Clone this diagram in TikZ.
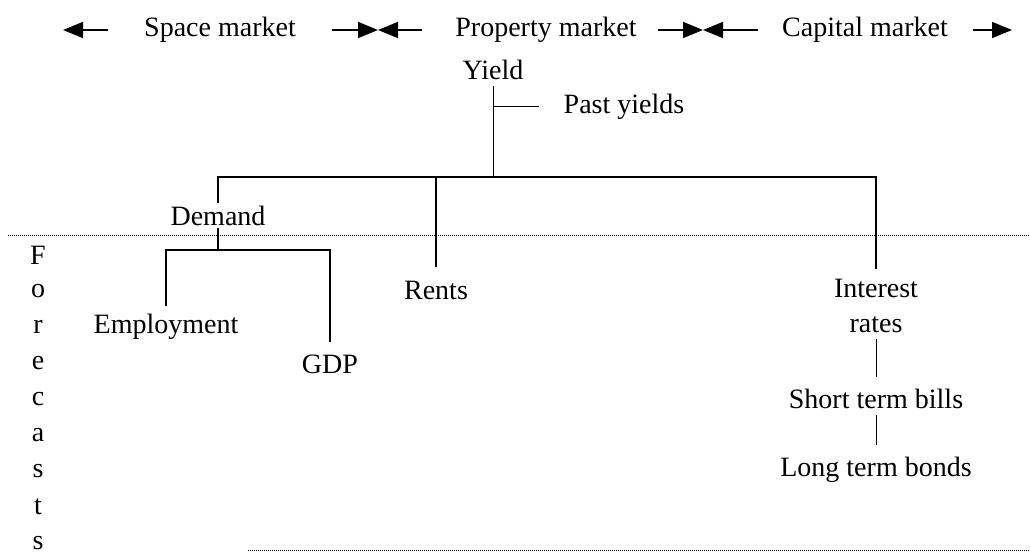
\documentclass[tikz,border=0pt]{standalone}
\usepackage{fontspec}
\setmainfont{Liberation Serif}
\usetikzlibrary{arrows.meta}
\tikzset{
  lbl/.style={inner sep=0pt, font=\fontsize{28}{35}\selectfont},
  conn/.style={line width=1.8pt},
  thinconn/.style={line width=1pt},
  arr/.style={line width=1.6pt, -{Triangle[length=20pt,width=16pt]}},
  sep/.style={line width=1pt, densely dotted},
}
\begin{document}
\begin{tikzpicture}[x=1pt,y=-1pt]
\useasboundingbox (0,0) rectangle (1030,556);
% top row
\node[lbl] (space) at (220,30) {Space market};
\node[lbl] (property) at (546,30) {Property market};
\node[lbl] (capital) at (865,30) {Capital market};
\coordinate (a0s) at (108,30); \coordinate (a0t) at (63,30);
\coordinate (a1s) at (332,30); \coordinate (a1t) at (378,30); \coordinate (a1e) at (422,30);
\coordinate (a2s) at (658,30); \coordinate (a2t) at (703,30); \coordinate (a2e) at (758,30);
\coordinate (a3s) at (973,30); \coordinate (a3t) at (1012,30);
\draw[arr] (a0s) -- (a0t);
\draw[arr] (a1s) -- (a1t);
\draw[arr] (a1e) -- (a1t);
\draw[arr] (a2s) -- (a2t);
\draw[arr] (a2e) -- (a2t);
\draw[arr] (a3s) -- (a3t);
% tree
\node[lbl] (yield) at (493,70) {Yield};
\node[lbl] (past) at (624,107) {Past yields};
\node[lbl] (demand) at (218,216) {Demand};
\node[lbl] (rents) at (436,290) {Rents};
\node[lbl, align=center] (interest) at (876,306) {Interest\\rates};
\node[lbl] (short) at (876,399) {Short term bills};
\node[lbl] (long) at (876,470) {Long term bonds};
\node[lbl] (employment) at (166,327) {Employment};
\node[lbl] (gdp) at (330,364) {GDP};
\coordinate (bar) at (492,177);
\coordinate (dj) at (218,250);
\draw[thinconn] ([yshift=-6pt]yield.south) -- (yield.south |- bar);
\draw[thinconn] (yield.south |- past) -- ([xshift=-25pt]past.west);
\draw[conn] ([yshift=3pt]demand.north) |- (bar) -| ([yshift=10pt]interest.north);
\draw[conn] (rents.north |- bar) -- ([yshift=13pt]rents.north);
\draw[conn] ([yshift=-2pt]demand.south) -- (dj);
\draw[conn] ([yshift=8pt]employment.north) |- (dj) -| ([yshift=12pt]gdp.north);
\draw[thinconn] ([yshift=-6pt]interest.south) -- ([yshift=12pt]short.north);
\draw[thinconn] ([yshift=-6pt]short.south) -- ([yshift=12pt]long.north);
% separators
\coordinate (s1l) at (8,235); \coordinate (s1r) at (1030,235);
\coordinate (s2l) at (248,550); \coordinate (s2r) at (1030,550);
\draw[sep] (s1l) -- (s1r);
\draw[sep] (s2l) -- (s2r);
% Forecasts
\foreach \c [count=\i] in {F,o,r,e,c,a,s,t,s}{
  \node[lbl] (f\i) at (38,{255+36*(\i-1)}) {\c};
}
\end{tikzpicture}
\end{document}
